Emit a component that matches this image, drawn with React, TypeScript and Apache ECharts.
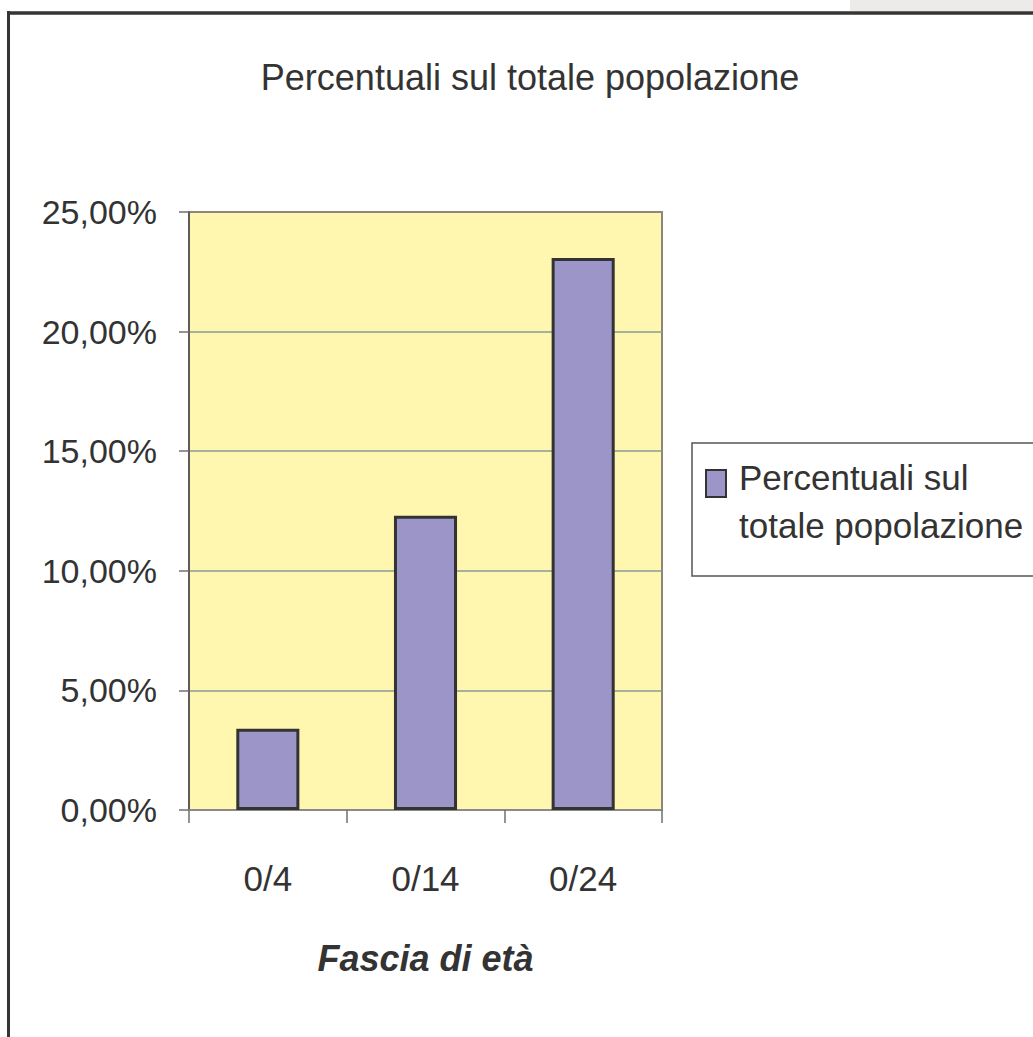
import React, { useEffect, useRef } from "react";
import * as echarts from "echarts";

const categories = ["0/4", "0/14", "0/24"];
const seriesName = "Percentuali sul totale popolazione";
const legendLines = ["Percentuali sul", "totale popolazione"];
const values = [0.034, 0.123, 0.2308];
const yTicks = { min: 0, max: 0.25, interval: 0.05 };
const chartTitle = "Percentuali sul totale popolazione";
const xAxisTitle = "Fascia di età";

const FONT = "'Liberation Sans', Arial, sans-serif";
const TEXT = "#333333";

export default function App() {
  const ref = useRef<HTMLDivElement>(null);
  useEffect(() => {
    if (!ref.current) return;
    const chart = echarts.init(ref.current, null, { renderer: "svg" });
    chart.setOption({
      animation: false,
      backgroundColor: "#ffffff",
      title: {
        text: chartTitle,
        left: 530,
        textAlign: "center",
        top: 59,
        padding: 0,
        textStyle: { fontFamily: FONT, fontSize: 36, fontWeight: "normal", color: TEXT },
      },
      legend: {
        show: true,
        left: 705,
        top: 418,
        padding: 0,
        orient: "vertical",
        icon: "rect",
        itemWidth: 20,
        itemHeight: 27,
        formatter: () => "{a| }\n{b|" + legendLines[0] + "}\n{b|" + legendLines[1] + "}",
        textStyle: {
          fontFamily: FONT,
          fontSize: 35,
          color: TEXT,
          padding: [0, 0, 0, 8],
          rich: {
            a: { fontFamily: FONT, fontSize: 35, lineHeight: 36, color: TEXT },
            b: { fontFamily: FONT, fontSize: 35, lineHeight: 48, color: TEXT },
          },
        },
      },
      grid: {
        left: 189,
        right: 1033 - 662,
        top: 212,
        bottom: 1037 - 810,
        show: true,
        backgroundColor: "#fff7b0",
        borderColor: "#8f8580",
        borderWidth: 2,
        containLabel: false,
      },
      xAxis: {
        type: "category",
        data: categories,
        name: xAxisTitle,
        nameLocation: "middle",
        nameGap: 130,
        nameTextStyle: {
          fontFamily: FONT,
          fontSize: 36,
          fontWeight: "bold",
          fontStyle: "italic",
          color: TEXT,
        },
        axisLine: { show: true, lineStyle: { color: "#8a8a8a", width: 2 } },
        axisTick: { show: true, length: 13, alignWithLabel: false, lineStyle: { color: "#6f6f6f", width: 1.5 } },
        axisLabel: { margin: 51, fontFamily: FONT, fontSize: 35, color: TEXT },
        splitLine: { show: false },
      },
      yAxis: {
        type: "value",
        min: yTicks.min,
        max: yTicks.max,
        interval: yTicks.interval,
        axisLine: { show: true, lineStyle: { color: "#605a5a", width: 2 } },
        axisTick: { show: true, length: 10, lineStyle: { color: "#6f6f6f", width: 1.5 } },
        axisLabel: {
          margin: 32,
          fontFamily: FONT,
          fontSize: 34,
          color: TEXT,
          padding: [0, 0, 9, 0],
          formatter: (v: number) => (v * 100).toFixed(2).replace(".", ",") + "%",
        },
        splitLine: {
          show: true,
          lineStyle: {
            color: ["#889c96", "#889c96", "#889c96", "#889c96", "#889c96", "#8f8580"],
            width: 1.5,
          },
        },
      },
      series: [
        {
          name: seriesName,
          type: "bar",
          data: values,
          barWidth: "40%",
          itemStyle: { color: "#9c96c8", borderColor: "#333333", borderWidth: 3 },
        },
      ],
      graphic: [
        { type: "rect", z: -10, shape: { x: 850, y: 0, width: 183, height: 11 }, style: { fill: "#ecebe9" } },
        { type: "line", z: 10, shape: { x1: 7, y1: 13, x2: 1033, y2: 13 }, style: { stroke: "#353535", lineWidth: 3.5 } },
        { type: "line", z: 10, shape: { x1: 8.5, y1: 11, x2: 8.5, y2: 1037 }, style: { stroke: "#353535", lineWidth: 3 } },
        {
          type: "rect",
          z: -1,
          shape: { x: 692, y: 443, width: 360, height: 133 },
          style: { fill: "#ffffff", stroke: "#555555", lineWidth: 1.5 },
        },
      ],
    });
    return () => chart.dispose();
  }, []);
  return (
    <div
      ref={ref}
      style={{ position: "absolute", left: 0, top: 0, width: 1033, height: 1037, background: "#ffffff" }}
    />
  );
}
